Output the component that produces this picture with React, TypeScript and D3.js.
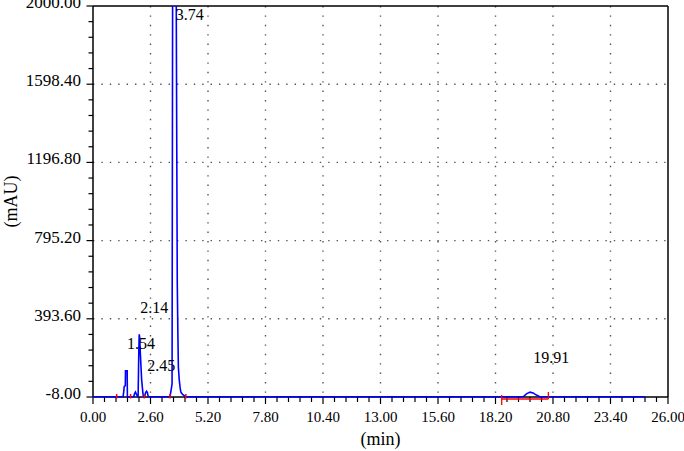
import React from "react";
import * as d3 from "d3";

// ---- data ----
const xTicks = [0, 2.6, 5.2, 7.8, 10.4, 13, 15.6, 18.2, 20.8, 23.4, 26];
const yTicks = [-8, 393.6, 795.2, 1196.8, 1598.4, 2000];

// chromatogram trace: [time (min), signal (mAU)]
const traceTime = [
  0, 1.36, 1.39, 1.41, 1.46, 1.47, 1.545, 1.555, 1.84, 1.88, 1.92, 1.97, 2.02,
  2.04, 2.07, 2.09, 2.11, 2.14, 2.2, 2.25, 2.28, 2.33, 2.38, 2.42, 2.46, 2.5,
  3.48, 3.52, 3.55, 3.575, 3.6, 3.66, 3.72, 3.765, 3.79, 3.81, 3.84, 3.86, 3.9,
  3.94, 3.97, 4.05, 4.2, 19.45, 19.6, 19.76, 19.9, 20.05, 20.2, 24.96,
];
const traceValue = [
  -7, -7, 20, 45, 50, 127, 127, -7, -7, 10, 18, 5, -7,
  -7, 218, 314, 300, 218, 80, 20, -7, -7, 15, 22, 15, -7,
  -7, 20, 40, 60, 2050, 2400, 2400, 2000, 1200, 585, 300, 146, 80,
  40, 18, 5, -7, -7, 8, 17, 13, 2, -7, -7,
];

const peakTimes = [1.54, 2.14, 2.45, 3.74, 19.91];
const peakLabels = ["1.54", "2.14", "2.45", "3.74", "19.91"];
const peakLabelLevel = [237, 423, 127, 1928, 165];

const markerTimes = [1.07, 1.7, 2.32, 3.48, 4.2];
const bracketTimes = [18.48, 20.59];

const W = 684;
const H = 451;
const left = 93;
const right = 668;
const top = 6;
const bottom = 397;

const serif = "Liberation Serif, Times New Roman, serif";

export default function App() {
  const x = d3.scaleLinear().domain([0, 26]).range([left, right]);
  const y = d3.scaleLinear().domain([-8, 2000]).range([bottom, top]);

  const pts: [number, number][] = traceTime.map((t, i) => [t, traceValue[i]]);
  const line = d3
    .line<[number, number]>()
    .x((d) => x(d[0]))
    .y((d) => y(d[1]));

  const xMinor: number[] = [];
  for (let i = 0; i <= 50; i++) xMinor.push(i * 0.52);
  const yMinor: number[] = [];
  for (let i = 0; i <= 25; i++) yMinor.push(-8 + i * 80.32);

  const tx = { fontFamily: serif };

  return (
    <svg
      width={W}
      height={H}
      style={{ position: "absolute", left: 0, top: 0, background: "#fff", fontFamily: serif }}
    >
      <defs>
        <clipPath id="plotclip">
          <rect x={left} y={top} width={right - left} height={bottom - top + 2} />
        </clipPath>
      </defs>
      <rect x={0} y={0} width={W} height={H} fill="#fff" />

      {/* grid */}
      {xTicks.slice(1, -1).map((t) => (
        <line
          key={"gx" + t}
          x1={x(t)}
          x2={x(t)}
          y1={top}
          y2={bottom}
          stroke="#555"
          strokeWidth={1.4}
          strokeDasharray="1.4 8"
        />
      ))}
      {yTicks.slice(1, -1).map((t) => (
        <line
          key={"gy" + t}
          x1={left}
          x2={right}
          y1={y(t)}
          y2={y(t)}
          stroke="#555"
          strokeWidth={1.4}
          strokeDasharray="1.4 7"
        />
      ))}

      {/* frame */}
      <line x1={left} x2={right} y1={top} y2={top} stroke="#000" strokeWidth={1.5} />
      <line x1={right} x2={right} y1={top} y2={bottom} stroke="#000" strokeWidth={1.5} />
      <line x1={left} x2={left} y1={top} y2={bottom} stroke="#000" strokeWidth={1.5} />
      <line x1={left} x2={right} y1={bottom} y2={bottom} stroke="#000" strokeWidth={1.5} />

      {/* x ticks */}
      {xMinor.map((t, i) => (
        <line
          key={"xm" + i}
          x1={x(t)}
          x2={x(t)}
          y1={bottom}
          y2={bottom + (i % 5 === 0 ? 7 : 5)}
          stroke="#000"
          strokeWidth={1.2}
        />
      ))}
      {xTicks.map((t) => (
        <text
          key={"xl" + t}
          x={x(t)}
          y={bottom + 25}
          textAnchor="middle"
          fontSize={15}
          fill="#000"
          style={tx}
        >
          {t.toFixed(2)}
        </text>
      ))}

      {/* y ticks */}
      {yMinor.map((t, i) => (
        <line
          key={"ym" + i}
          x1={left - (i % 5 === 0 ? 6.5 : 4.5)}
          x2={left}
          y1={y(t)}
          y2={y(t)}
          stroke="#000"
          strokeWidth={1.2}
        />
      ))}
      {yTicks.map((t) => (
        <text
          key={"yl" + t}
          x={left - 12}
          y={y(t) + 2}
          textAnchor="end"
          fontSize={17}
          fill="#000"
          style={tx}
        >
          {t.toFixed(2)}
        </text>
      ))}

      {/* trace */}
      <g clipPath="url(#plotclip)">
        <path d={line(pts) || ""} fill="none" stroke="#0000ff" strokeWidth={1.6} />
      </g>

      {/* integration markers */}
      {markerTimes.map((t) => (
        <line
          key={"mk" + t}
          x1={x(t)}
          x2={x(t)}
          y1={bottom - 3}
          y2={bottom + 1.5}
          stroke="#ff0000"
          strokeWidth={1.5}
        />
      ))}
      <line
        x1={x(bracketTimes[0])}
        x2={x(bracketTimes[1])}
        y1={bottom + 2}
        y2={bottom + 2}
        stroke="#ff0000"
        strokeWidth={1.3}
      />
      <line
        x1={x(bracketTimes[0])}
        x2={x(bracketTimes[0])}
        y1={bottom - 2}
        y2={bottom + 8}
        stroke="#ff0000"
        strokeWidth={1.3}
      />
      <line
        x1={x(bracketTimes[1])}
        x2={x(bracketTimes[1])}
        y1={bottom - 5}
        y2={bottom + 2}
        stroke="#ff0000"
        strokeWidth={1.3}
      />

      {/* peak labels */}
      {peakTimes.map((t, i) => (
        <text
          key={"pl" + t}
          x={x(t)}
          y={y(peakLabelLevel[i])}
          fontSize={16}
          fill="#000"
          style={tx}
        >
          {peakLabels[i]}
        </text>
      ))}

      {/* axis titles */}
      <text
        x={(left + right) / 2}
        y={445}
        textAnchor="middle"
        fontSize={18}
        fill="#000"
        style={tx}
      >
        (min)
      </text>
      <text
        transform={`translate(17, ${(top + bottom) / 2}) rotate(-90)`}
        textAnchor="middle"
        fontSize={18}
        fill="#000"
        style={tx}
      >
        (mAU)
      </text>
    </svg>
  );
}
